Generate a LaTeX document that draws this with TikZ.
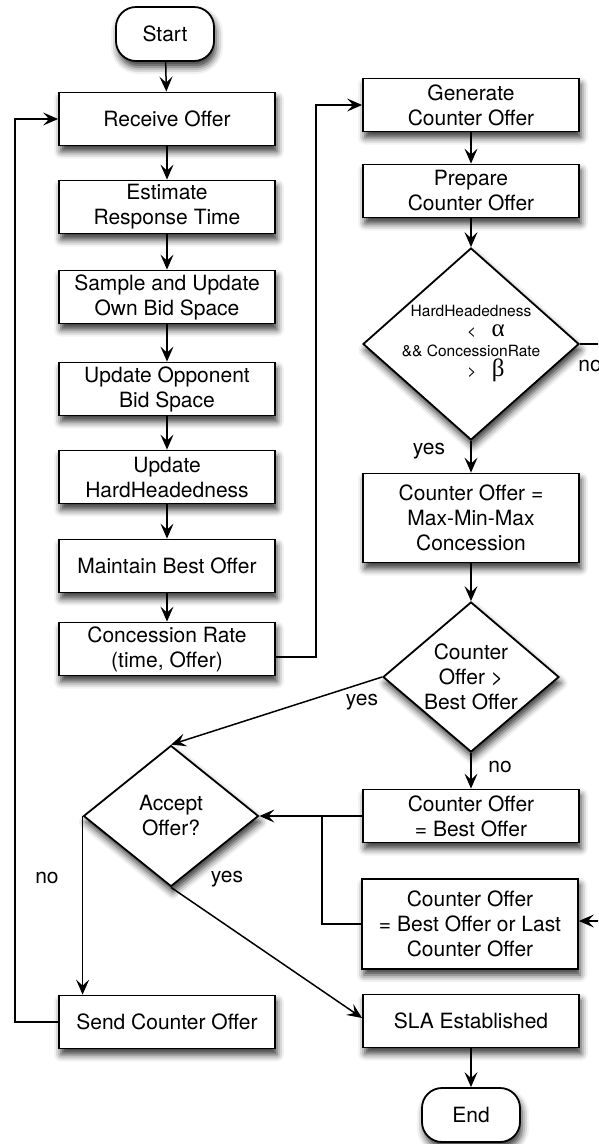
\documentclass[tikz,border=0pt]{standalone}
\usepackage{fontspec}
\setmainfont{TeX Gyre Heros}
\newfontfamily\greekfont{Liberation Serif}
\usetikzlibrary{shapes.geometric,arrows.meta,shadows.blur}

\begin{document}
\begin{tikzpicture}[x=1pt, y=-1pt,
  base/.style={draw=black, line width=1.8pt, fill=white, inner sep=0pt,
    align=center, font=\fontsize{21}{25}\selectfont,
    blur shadow={shadow xshift=2pt, shadow yshift=-6pt,
      shadow blur radius=7pt, shadow opacity=80}},
  proc/.style={base, rectangle, minimum width=216pt, minimum height=53pt},
  term/.style={base, rectangle, rounded corners=20pt,
    minimum width=98pt, minimum height=54pt},
  decision/.style={base, diamond},
  dtext/.style={align=center, inner sep=0pt, font=\fontsize{21}{25}\selectfont},
  flow/.style={draw, line width=1.5pt,
    -{Stealth[length=15pt, width=13pt, inset=6pt]}},
  link/.style={draw, line width=1.5pt},
  lbl/.style={inner sep=0pt, font=\fontsize{21}{25}\selectfont}
]
\useasboundingbox (0,0) rectangle (598,1144);
\clip (0,0) rectangle (598,1144);

% ---- left column: offer processing
\node[term] (start) at (165,34) {Start};
\node[proc] (recv) at (167,119) {Receive Offer};
\node[proc] (est)  at (167,207) {Estimate\\Response Time};
\node[proc] (samp) at (167,297) {Sample and Update\\Own Bid Space};
\node[proc] (opp)  at (167,389) {Update Opponent\\Bid Space};
\node[proc] (hh)   at (167,477) {Update\\HardHeadedness};
\node[proc] (mbo)  at (167,566) {Maintain Best Offer};
\node[proc] (cr)   at (167,649) {Concession Rate\\(time, Offer)};
\node[decision, minimum width=175pt, minimum height=141pt] (acc) at (171,816) {};
\node[dtext] (acct) at (acc) {Accept\\Offer?};
\node[proc] (send) at (167,1022) {Send Counter Offer};

% ---- right column: counter offer generation
\node[proc] (gen)  at (471,105) {Generate\\Counter Offer};
\node[proc] (prep) at (471,191) {Prepare\\Counter Offer};
\node[decision, minimum width=216pt, minimum height=192pt] (hard) at (471,344) {};
\node[dtext, font=\fontsize{15.5}{20}\selectfont] (hardt) at (471,344)
  {HardHeadedness\\
   \hspace*{30pt}<\quad{\greekfont\fontsize{25}{20}\selectfont α}\\
   \&\& ConcessionRate\\
   \hspace*{30pt}>\quad{\greekfont\fontsize{25}{20}\selectfont β}};
\node[proc, minimum height=89pt] (mmm) at (471,518) {Counter Offer =\\Max-Min-Max\\Concession};
\node[decision, minimum width=176pt, minimum height=150pt] (cmp) at (471,677) {};
\node[dtext] (cmpt) at (cmp) {Counter\\Offer >\\Best Offer};
\node[proc] (cb1) at (471,816) {Counter Offer\\= Best Offer};
\node[proc, minimum height=90pt] (cb2) at (470,924) {Counter Offer\\= Best Offer or Last\\Counter Offer};
\node[proc] (sla) at (471,1021) {SLA Established};
\node[term] (end) at (471,1115) {End};

% ---- main flow
\draw[flow] (start) -- (recv);
\draw[flow] (recv) -- (est);
\draw[flow] (est) -- (samp);
\draw[flow] (samp) -- (opp);
\draw[flow] (opp) -- (hh);
\draw[flow] (hh) -- (mbo);
\draw[flow] (mbo) -- (cr);
\draw[flow] ([yshift=-8pt]cr.east) -- ++(40,0) |- (gen.west);
\draw[flow] (gen) -- (prep);
\draw[flow] (prep.south) -- (hard.north);
\draw[flow] (hard.south) -- (mmm.north);
\draw[flow] (mmm.south) -- (cmp.north);
\draw[flow] (cmp.south) -- (cb1.north);
\draw[flow] (hard.east) -- ++(45,0) |- ([yshift=3pt]cb2.east);
\draw[flow] (cmp.west) -- (acc.north);
\draw[flow] (cb1.west) -- (acc.east);
\draw[link] (cb2.west) -| ([xshift=-40pt]cb1.west);
\draw[flow] (acc.west) -- (acc.west |- send.north);
\draw[flow] (acc.south) -- ([yshift=3pt]sla.west);
\draw[flow] (send.west) -- ++(-43,0) |- (recv.west);
\draw[flow] (sla) -- (end);

% ---- branch labels
\node[lbl] (yes1) at (429,451) {yes};
\node[lbl] (no1)  at (590,366) {no};
\node[lbl] (yes2) at (362,702) {yes};
\node[lbl] (no2)  at (500,767) {no};
\node[lbl] (yes3) at (227,879) {yes};
\node[lbl] (no3)  at (47,878) {no};
\end{tikzpicture}
\end{document}
